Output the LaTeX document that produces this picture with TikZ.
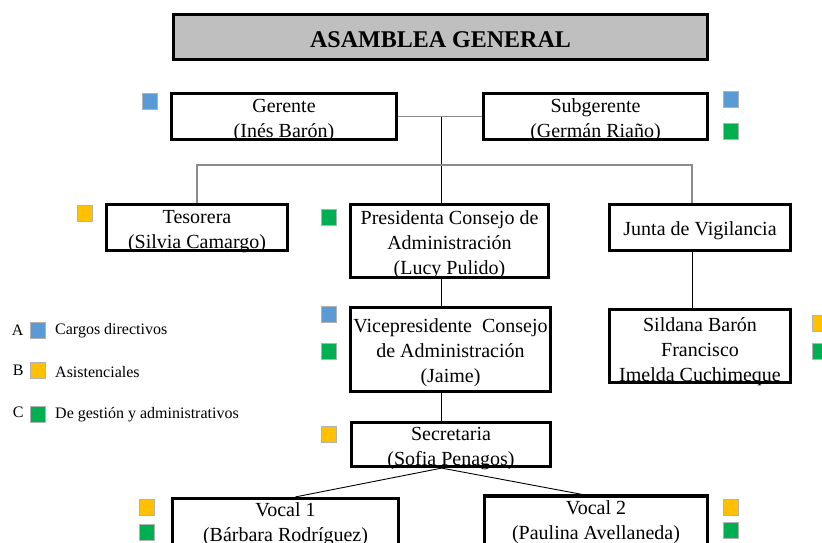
\documentclass[tikz,border=0pt]{standalone}
\usepackage{fontspec}
\setmainfont{Liberation Serif}
\usepackage{xcolor}
\usetikzlibrary{positioning,calc}
\definecolor{azul}{HTML}{5B9BD5}
\definecolor{amarillo}{HTML}{FFC000}
\definecolor{verde}{HTML}{00B050}
\definecolor{titulo}{HTML}{BFBFBF}
\definecolor{enlace}{HTML}{8C8C8C}
% texto de los cuadros, centrado en el cuadro
\newcommand{\lineas}[2][-8.5pt]{\raisebox{#1}[0pt][0pt]{\begin{tabular}{@{}c@{}}#2\end{tabular}}}

\begin{document}
\begin{tikzpicture}[x=1pt,y=-1pt,
  cargo/.style={draw, line width=3.2pt, fill=white, inner sep=0pt,
    font=\fontsize{20}{25}\selectfont},
  marca/.style={draw=gray!60, line width=0.5pt, minimum width=15pt,
    minimum height=16pt, inner sep=0pt},
  leyenda/.style={anchor=west, inner sep=0pt, font=\fontsize{16}{19}\selectfont},
  linea/.style={line width=0.9pt},
  lineagris/.style={line width=1.3pt, enlace}]

\useasboundingbox (0,0) rectangle (822,543);

% Asamblea
\node[cargo, fill=titulo, minimum width=534pt, minimum height=45pt,
  font=\fontsize{24}{28}\selectfont\bfseries,
  execute at begin node={\rule{0pt}{20.5pt}}] (asam) at (440.5,37) {ASAMBLEA GENERAL};

% Gerencia
\node[cargo, minimum width=225pt, minimum height=46pt] (ger) at (284,116.5) {\lineas{Gerente\\(Inés Barón)}};
\node[cargo, minimum width=224pt, minimum height=46pt] (sub) at (595.5,116.5) {\lineas{Subgerente\\(Germán Riaño)}};

% Segundo nivel
\node[cargo, minimum width=181pt, minimum height=46pt] (tes) at (197,227.5) {\lineas{Tesorera\\(Silvia Camargo)}};
\node[cargo, minimum width=198pt, minimum height=73pt] (pres) at (449.5,241) {\lineas{Presidenta Consejo de\\Administración\\(Lucy Pulido)}};
\node[cargo, minimum width=181pt, minimum height=46pt] (junta) at (700,227.5) {\lineas{Junta de Vigilancia}};

% Tercer nivel
\node[cargo, minimum width=200pt, minimum height=84pt] (vice) at (450.5,349.5) {\lineas{Vicepresidente~ Consejo\\de Administración\\(Jaime)}};
\node[cargo, minimum width=181pt, minimum height=73pt] (sil) at (700,346) {\lineas[-10.5pt]{Sildana Barón\\Francisco\\Imelda Cuchimeque}};
\node[cargo, minimum width=199pt, minimum height=44pt] (sec) at (451,444.5) {\lineas{Secretaria\\(Sofia Penagos)}};

% Vocales
\node[cargo, minimum width=226pt, minimum height=50pt] (voc1) at (285.5,523.5) {\lineas[-6pt]{Vocal 1\\(Bárbara Rodríguez)}};
\node[cargo, minimum width=223pt, minimum height=50pt] (voc2) at (596,521) {\lineas[-6pt]{Vocal 2\\(Paulina Avellaneda)}};

% Conectores
\coordinate (eje) at ($(ger.east)!0.52!(sub.west)$);
\coordinate (cruce) at (eje |- 0,165);
\coordinate (vig) at ($(junta.north)+(-8,0)$);
\draw[lineagris] (ger.east) -- (sub.west);
\draw[linea] (eje) -- (eje |- pres.north);
\draw[lineagris] (tes.north) |- (cruce) -| (vig);
\draw[linea] (vig |- junta.south) -- (vig |- sil.north);
\draw[linea] (eje |- pres.south) -- (eje |- vice.north);
\draw[linea] (eje |- vice.south) -- (eje |- sec.north);
\draw[linea] (eje |- sec.south) -- ($(voc1.north)+(10,0)$);
\draw[linea] (eje |- sec.south) -- ($(voc2.north)+(-14,0)$);

% Marcas de color
\node[marca, fill=azul] (mger) at (150,101) {};
\node[marca, fill=azul] (msub1) at (730.5,99) {};
\node[marca, fill=verde] (msub2) at (730.5,131) {};
\node[marca, fill=amarillo] (mtes) at (84.5,213.5) {};
\node[marca, fill=verde] (mpres) at (328.5,217) {};
\node[marca, fill=azul] (mvice1) at (328.5,314) {};
\node[marca, fill=verde] (mvice2) at (328.5,351) {};
\node[marca, fill=amarillo] (msil1) at (819.5,323) {};
\node[marca, fill=verde] (msil2) at (819.5,351) {};
\node[marca, fill=amarillo] (msec) at (328.5,434) {};
\node[marca, fill=amarillo] (mvoc1a) at (147,507) {};
\node[marca, fill=verde] (mvoc1b) at (147,532) {};
\node[marca, fill=amarillo] (mvoc2a) at (730.5,507) {};
\node[marca, fill=verde] (mvoc2b) at (730.5,530.5) {};

% Leyenda
\node[marca, fill=azul] (lega) at (37.5,330.5) {};
\node[marca, fill=amarillo] (legb) at (37.5,370.5) {};
\node[marca, fill=verde] (legc) at (37.5,414.5) {};
\node[leyenda, anchor=east] at ($(lega.west)+(-6,0)$) {A};
\node[leyenda, anchor=east] at ($(legb.west)+(-6,0)$) {B};
\node[leyenda, anchor=east] at ($(legc.west)+(-6,-2)$) {C};
\node[leyenda] (txta) at (55,331) {Cargos directivos};
\node[leyenda] (txtb) at (55,372) {Asistenciales};
\node[leyenda] (txtc) at (55,415) {De gestión y administrativos};

\end{tikzpicture}
\end{document}
